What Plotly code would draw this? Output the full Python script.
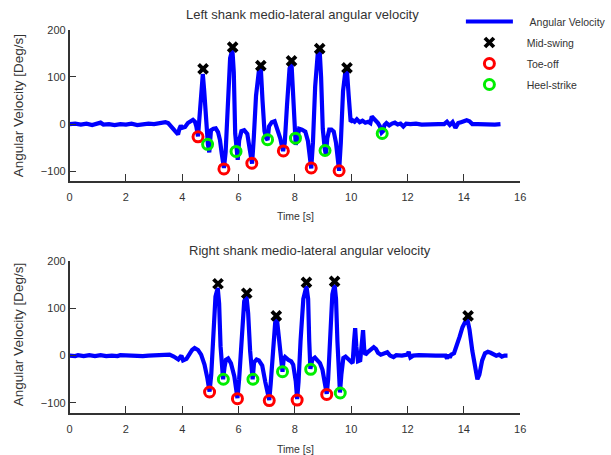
import plotly.graph_objects as go

# ---------------- data: left shank ----------------
left_t = [0.0, 0.2, 0.4, 0.6, 0.8, 1.0, 1.1, 1.2, 1.4, 1.6, 1.8, 2.0, 2.2, 2.4, 2.6, 2.8, 3.0, 3.2, 3.4, 3.5,
          3.6, 3.75, 3.85, 3.9, 3.95, 4.0, 4.1, 4.2, 4.3, 4.38, 4.45, 4.5, 4.56,
          4.62, 4.68, 4.73, 4.78, 4.85, 4.91, 4.96, 5.02, 5.11, 5.19, 5.27, 5.34, 5.4, 5.48,
          5.54, 5.62, 5.7, 5.78, 5.83, 5.88, 5.93, 5.97, 6.02, 6.1, 6.2, 6.31, 6.4, 6.48,
          6.54, 6.62, 6.72, 6.79, 6.85, 6.92, 6.98, 7.03, 7.08, 7.18, 7.28, 7.38, 7.48, 7.58,
          7.64, 7.72, 7.81, 7.88, 7.93, 7.98, 8.03, 8.09, 8.15, 8.25, 8.37, 8.46, 8.52, 8.58,
          8.64, 8.72, 8.81, 8.88, 8.93, 8.99, 9.06, 9.1, 9.15, 9.22, 9.3, 9.38, 9.46, 9.52, 9.57,
          9.63, 9.71, 9.79, 9.85, 9.91, 9.98, 10.05, 10.12, 10.2, 10.3, 10.4, 10.5, 10.6, 10.68,
          10.73, 10.8, 10.88, 10.95, 11.02, 11.08, 11.13, 11.18, 11.25, 11.35, 11.45, 11.55, 11.65,
          11.75, 11.85, 11.95, 12.1, 12.3, 12.5, 12.7, 12.9, 13.1, 13.3, 13.4, 13.5, 13.6, 13.7,
          13.8, 13.9, 14.0, 14.1, 14.2, 14.3, 14.5, 14.7, 14.9, 15.1, 15.3]
left_v = [0, 1, -1, 1, -2, 0, 3, -1, 0, -2, 0, -1, 1, -2, 0, 1, 0, 2, 4, 2,
          -5, -13, -22, -10, -3, -8, -6, 2, 7, 9, 5, -5, -26,
          20, 80, 106, 70, -4, -42, -60, -13, -10, -9, -17, -34, -62, -93,
          -60, 50, 140, 158, 110, -20, -58, -76, -35, -15, -13, -21, -55, -84,
          -30, 60, 112, 118, 50, -15, -30, -34, -5, 4, 6, -10, -30, -57,
          -40, 40, 118, 128, 60, -20, -44, -30, -10, -12, -16, -35, -70, -94,
          -40, 80, 148, 155, 100, -10, -52, -65, -30, -12, -12, -16, -40, -80, -99,
          -40, 70, 110, 112, 60, 5, 8, 5, 10, 4, 7, 3, 5, 2,
          16, 12, 8, 2, -5, -18, -15, -2, 2, -3, 1, 3, -1,
          1, -5, 1, 0, 1, -1, 0, 1, 0, 0, 5, -2, 4, -8,
          2, 4, 5, 8, 6, 0, 0, -1, 0, -1, 0]

left_mid_t = [4.74, 5.79, 6.79, 7.88, 8.88, 9.85]
left_mid_v = [117, 163, 124, 134, 160, 119]
left_toe_t = [4.56, 5.48, 6.47, 7.59, 8.58, 9.57]
left_toe_v = [-27, -95, -83, -57, -93, -99]
left_heel_t = [4.9, 5.91, 7.03, 8.02, 9.07, 11.1]
left_heel_v = [-43, -58, -33, -30, -56, -20]

# ---------------- data: right shank ----------------
right_t = [0.0, 0.2, 0.3, 0.5, 0.7, 0.9, 1.1, 1.3, 1.5, 1.7, 1.8, 2.0, 2.2, 2.4, 2.6, 2.8, 3.0, 3.2, 3.4,
           3.55, 3.7, 3.86, 3.97, 4.03, 4.15, 4.26, 4.35, 4.44, 4.56, 4.67, 4.79, 4.89, 4.97,
           5.03, 5.1, 5.18, 5.26, 5.31, 5.36, 5.41, 5.45, 5.5, 5.55, 5.63, 5.73, 5.85, 5.92, 5.96,
           6.02, 6.1, 6.2, 6.28, 6.34, 6.41, 6.46, 6.5, 6.55, 6.64, 6.72, 6.84, 6.95, 7.04, 7.09,
           7.14, 7.22, 7.3, 7.36, 7.42, 7.48, 7.53, 7.56, 7.6, 7.65, 7.77, 7.87, 7.94, 8.03, 8.08,
           8.13, 8.2, 8.3, 8.41, 8.47, 8.51, 8.55, 8.62, 8.71, 8.8, 8.89, 8.98, 9.06, 9.13,
           9.18, 9.25, 9.33, 9.41, 9.46, 9.51, 9.56, 9.6, 9.65, 9.72, 9.8, 9.9, 10.0, 10.05,
           10.1, 10.14, 10.18, 10.24, 10.32, 10.38, 10.42, 10.46, 10.5, 10.6, 10.7, 10.8, 10.88,
           10.95, 11.05, 11.15, 11.28, 11.38, 11.5, 11.6, 11.8, 12.0, 12.04, 12.1, 12.2, 12.4,
           12.6, 12.8, 13.0, 13.2, 13.35, 13.4, 13.45, 13.5, 13.55, 13.65, 13.75, 13.85, 13.95,
           14.05, 14.13, 14.2, 14.3, 14.4, 14.48, 14.55, 14.65, 14.75, 14.85, 14.95, 15.05,
           15.15, 15.25, 15.35, 15.45, 15.55]
right_v = [0, -1, 1, -1, 1, -1, 1, -1, 0, -1, 1, 0, -1, 0, -1, 0, 0, 0, 1,
           2, -2, -8, 0, -10, -7, 6, 12, 16, 12, 2, -19, -47, -76,
           -40, 40, 125, 143, 110, 20, -30, -50, -25, -9, -6, -16, -44, -80, -90,
           -50, 40, 115, 126, 90, 10, -35, -50, -14, -8, -10, -21, -56, -85, -94,
           -60, 20, 70, 78, 40, -5, -25, -34, -8, -3, -9, -12, -19, -54, -92,
           -55, 30, 120, 147, 120, 30, -28, -8, -4, -10, -16, -30, -54, -81,
           -50, 40, 130, 150, 120, 30, -40, -78, -40, -5, -2, -8, -12, -16,
           30, 58, 20, -12, -10, 20, 54, 15, 2, 8, 12, 18, 14,
           6, 2, 4, 7, 0, -3, 1, 0, 2, 8, -4, 0, 1,
           0, 0, 0, 0, 0, -6, 2, -4, 2, 5, 20, 40, 60,
           72, 75, 55, 10, -30, -50, -40, -10, 5, 8, 6, 3,
           0, 2, -2, 0, 0]

right_mid_t = [5.27, 6.29, 7.34, 8.41, 9.41, 14.15]
right_mid_v = [152, 132, 84, 155, 157, 84]
right_toe_t = [4.97, 5.96, 7.09, 8.08, 9.13]
right_toe_v = [-77, -91, -95, -94, -82]
right_heel_t = [5.46, 6.51, 7.56, 8.56, 9.61]
right_heel_v = [-50, -50, -34, -29, -79]

x_ticks = [0, 2, 4, 6, 8, 10, 12, 14, 16]
y_ticks = [-100, 0, 100, 200]
x_range = [0, 16]
top_y_range = [-121, 200]
bot_y_range = [-121.5, 200]

titles = ["Left shank medio-lateral angular velocity", "Right shank medio-lateral angular velocity"]
x_title = "Time [s]"
y_title = "Angular Velocity [Deg/s]"
legend_names = ["Angular Velocity", "Mid-swing", "Toe-off", "Heel-strike"]
legend_pads = [4, 3, 3, 3]

# ---------------- figure ----------------
W, H = 611, 455
FONT = "Liberation Sans, Arial, sans-serif"
TXT = "#333333"
BLUE = "#0000FF"

fig = go.Figure()

def lname(i):
    return "\u00a0" * legend_pads[i] + legend_names[i]

def add_set(t, v, mt, mv, tt, tv, ht, hv, xa, ya, show):
    fig.add_trace(go.Scatter(x=t, y=v, mode="lines", name=lname(0),
                             line=dict(color=BLUE, width=4.2), xaxis=xa, yaxis=ya,
                             showlegend=show, legendgroup="g1"))
    fig.add_trace(go.Scatter(x=mt, y=mv, mode="markers", name=lname(1),
                             marker=dict(symbol="x-thin", size=9, color="black",
                                         line=dict(color="black", width=3.8)),
                             xaxis=xa, yaxis=ya, showlegend=show, legendgroup="g2"))
    fig.add_trace(go.Scatter(x=tt, y=tv, mode="markers", name=lname(2),
                             marker=dict(symbol="circle-open", size=10, color="#FF0000",
                                         line=dict(color="#FF0000", width=3)),
                             xaxis=xa, yaxis=ya, showlegend=show, legendgroup="g3"))
    fig.add_trace(go.Scatter(x=ht, y=hv, mode="markers", name=lname(3),
                             marker=dict(symbol="circle-open", size=10, color="#00EE00",
                                         line=dict(color="#00EE00", width=3)),
                             xaxis=xa, yaxis=ya, showlegend=show, legendgroup="g4"))

add_set(left_t, left_v, left_mid_t, left_mid_v, left_toe_t, left_toe_v,
        left_heel_t, left_heel_v, "x", "y", True)
add_set(right_t, right_v, right_mid_t, right_mid_v, right_toe_t, right_toe_v,
        right_heel_t, right_heel_v, "x2", "y2", False)

x_dom = [68.5 / W, 532 / W]
top_dom = [1 - 177.5 / H, 1 - 24 / H]
bot_dom = [1 - 412.5 / H, 1 - 258.5 / H]

def xax(anchor):
    return dict(domain=x_dom, range=x_range, anchor=anchor, tickvals=x_ticks,
                showline=True, linecolor="#333333", linewidth=1.5,
                ticks="inside", ticklen=7, tickwidth=1.3, tickcolor="#333333",
                showgrid=False, zeroline=False, fixedrange=True,
                tickfont=dict(family=FONT, size=11, color=TXT), ticklabelstandoff=5)

def yax(anchor, dom, rng):
    return dict(domain=dom, range=rng, anchor=anchor, tickvals=y_ticks,
                showline=True, linecolor="#333333", linewidth=1.5,
                ticks="inside", ticklen=7, tickwidth=1.3, tickcolor="#333333",
                showgrid=False, zeroline=False, fixedrange=True,
                tickfont=dict(family=FONT, size=11, color=TXT), ticklabelstandoff=0)

def ann(text, xp, yp, size, angle=0):
    return dict(text=text, x=xp / W, y=1 - yp / H, xref="paper", yref="paper",
                showarrow=False, xanchor="center", yanchor="middle", textangle=angle,
                font=dict(family=FONT, size=size, color=TXT))

annotations = [
    ann(titles[0], 308, 8.5, 13),
    ann(titles[1], 316, 248, 13),
    ann(x_title, 301, 212.5, 10.5),
    ann(x_title, 301, 449, 10.5),
    ann(y_title, 16, 101, 13.5, -90),
    ann(y_title, 16, 333, 13.5, -90),
]

fig.update_layout(
    width=W, height=H,
    margin=dict(l=0, r=0, t=0, b=0),
    paper_bgcolor="white", plot_bgcolor="white",
    xaxis=xax("y"), yaxis=yax("x", top_dom, top_y_range),
    xaxis2=xax("y2"), yaxis2=yax("x2", bot_dom, bot_y_range),
    annotations=annotations,
    showlegend=True,
    legend=dict(x=471 / W, y=1 - 1 / H, xanchor="left", yanchor="top",
                bgcolor="rgba(0,0,0,0)", borderwidth=0, itemwidth=47,
                tracegroupgap=2, itemclick=False, itemdoubleclick=False,
                font=dict(family=FONT, size=10.5, color=TXT)),
)

fig.write_html("out.html", config={"displayModeBar": False},
               post_script="document.body.style.margin='0';")
